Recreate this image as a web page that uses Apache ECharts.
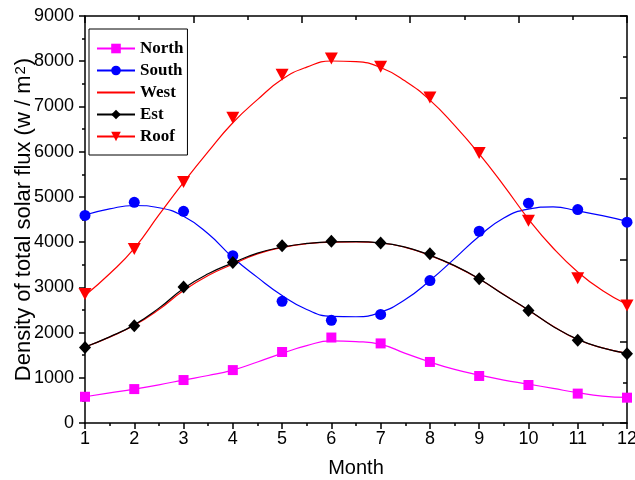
<!DOCTYPE html>
<html>
<head>
<meta charset="utf-8">
<script src="https://cdn.jsdelivr.net/npm/echarts@6/dist/echarts.min.js"></script>
<style>html,body{margin:0;padding:0;background:#fff}#c{width:635px;height:480px}</style>
</head>
<body>
<div id="c"></div>
<script>
// Measured points (months 1..12)
const months = [1,2,3,4,5,6,7,8,9,10,11,12];
const northPts = [580, 750, 950, 1170, 1570, 1890, 1760, 1350, 1040, 840, 650, 560];
const southPts = [4590, 4880, 4680, 3700, 2690, 2270, 2400, 3150, 4240, 4860, 4720, 4440];
const estPts   = [1670, 2150, 3010, 3550, 3920, 4020, 3980, 3740, 3190, 2490, 1830, 1530];
const roofPts  = [2850, 3850, 5330, 6750, 7700, 8060, 7880, 7200, 5970, 4470, 3200, 2600];

// Fitted curves at half-month steps
const fitX = [1,1.5,2,2.5,3,3.5,4,4.5,5,5.5,6,6.5,7,7.5,8,8.5,9,9.5,10,10.5,11,11.5,12];
const northFit = [580,665,750,845,950,1050,1170,1350,1540,1710,1815,1800,1740,1540,1350,1185,1060,950,860,765,670,595,565];
const southFit = [4600,4735,4810,4760,4570,4185,3660,3220,2820,2510,2360,2350,2450,2730,3150,3635,4130,4535,4730,4780,4690,4585,4460];
const westFit  = [1680,1900,2160,2510,2930,3260,3510,3740,3880,3965,4000,4005,3980,3885,3705,3475,3185,2840,2495,2140,1845,1660,1540];
const estFit   = [1680,1905,2170,2540,2975,3300,3540,3755,3890,3970,4005,4010,3985,3890,3710,3480,3190,2835,2500,2135,1850,1662,1540];
const roofFit  = [2820,3300,3860,4600,5320,6000,6640,7150,7600,7870,8005,7990,7860,7560,7140,6580,5950,5250,4510,3870,3340,2930,2620];

const seriesNames = ['North','South','West','Est','Roof'];
const xTicks = [1,12];
const yRange = [0, 9000];

const pair = (xs, ys) => xs.map((x, i) => [x, ys[i]]);

const chart = echarts.init(document.getElementById('c'), null, {renderer: 'canvas'});
const axisFont = {fontFamily: 'Liberation Sans', fontSize: 18, color: '#000'};
const lineW = 1.2;

function curve(name, ys, color, symbol, size, rotate) {
  return {
    name: name, type: 'line', data: pair(fitX, ys), smooth: 0.5,
    showSymbol: false, symbol: symbol, symbolSize: size, symbolRotate: rotate || 0,
    lineStyle: {color: color, width: lineW}, itemStyle: {color: color},
    color: color, z: 2
  };
}
function pts(name, ys, color, symbol, size, rotate) {
  return {
    name: name + ' data', type: 'scatter', data: pair(months, ys),
    symbol: symbol, symbolSize: size, symbolRotate: rotate || 0,
    itemStyle: {color: color, opacity: 1}, z: 3
  };
}

chart.setOption({
  animation: false,
  backgroundColor: '#fff',
  grid: {left: 85, right: 8, top: 16, bottom: 57, containLabel: false, outerBoundsMode: 'none'},
  legend: {
    data: [
      {name: 'North'}, {name: 'South'},
      {name: 'West', itemStyle: {opacity: 0}},
      {name: 'Est'}, {name: 'Roof'}
    ],
    orient: 'vertical', left: 89, top: 29,
    itemWidth: 38, itemHeight: 12, itemGap: 5,
    padding: [11, 4, 10, 7],
    borderColor: '#000', borderWidth: 1, backgroundColor: '#fff',
    textStyle: {fontFamily: 'Liberation Serif', fontWeight: 'bold', fontSize: 17, color: '#000', lineHeight: 17},
    selectedMode: false
  },
  xAxis: [
    {
      type: 'value', position: 'bottom', min: xTicks[0], max: xTicks[1], interval: 1,
      name: 'Month', nameLocation: 'middle', nameGap: 35, nameMoveOverlap: false,
      nameTextStyle: {fontFamily: 'Liberation Sans', fontSize: 20, color: '#000'},
      axisLine: {show: true, onZero: false, lineStyle: {color: '#000', width: 1.5}},
      axisTick: {show: true, inside: false, length: 6, lineStyle: {color: '#000', width: 1.5}},
      minorTick: {show: true, splitNumber: 2, length: 3, lineStyle: {color: '#000', width: 1.5}},
      axisLabel: Object.assign({margin: 7}, axisFont),
      splitLine: {show: false}
    },
    {
      type: 'value', position: 'top', min: 0, max: 5, interval: 1,
      axisLine: {show: true, onZero: false, lineStyle: {color: '#000', width: 1.5}},
      axisTick: {show: true, inside: true, length: 7, lineStyle: {color: '#000', width: 1.5}},
      minorTick: {show: true, splitNumber: 2, length: 4, lineStyle: {color: '#000', width: 1.5}},
      axisLabel: {show: false}, splitLine: {show: false}
    }
  ],
  yAxis: [
    {
      type: 'value', position: 'left', min: yRange[0], max: yRange[1], interval: 1000,
      name: 'Density of total solar flux (w / m{sup|2})', nameLocation: 'middle', nameGap: 50, nameMoveOverlap: false,
      nameTextStyle: {
        fontFamily: 'Liberation Sans', fontSize: 22, color: '#000',
        rich: {sup: {fontFamily: 'Liberation Sans', fontSize: 15, color: '#000', verticalAlign: 'top', padding: [0, 1, 6, 1]}}
      },
      axisLine: {show: true, onZero: false, lineStyle: {color: '#000', width: 1.5}},
      axisTick: {show: true, inside: false, length: 6, lineStyle: {color: '#000', width: 1.5}},
      minorTick: {show: true, splitNumber: 2, length: 3, lineStyle: {color: '#000', width: 1.5}},
      axisLabel: Object.assign({margin: 11, formatter: v => String(v)}, axisFont),
      splitLine: {show: false}
    },
    {
      type: 'value', position: 'right', min: 0, max: 5, interval: 1,
      axisLine: {show: true, onZero: false, lineStyle: {color: '#000', width: 1.5}},
      axisTick: {show: true, inside: true, length: 7, lineStyle: {color: '#000', width: 1.5}},
      minorTick: {show: true, splitNumber: 2, length: 4, lineStyle: {color: '#000', width: 1.5}},
      axisLabel: {show: false}, splitLine: {show: false}
    }
  ],
  series: [
    curve('North', northFit, '#ff00ff', 'rect', 10),
    curve('South', southFit, '#0000ff', 'circle', 10),
    curve('West', westFit, '#ff0000', 'circle', 10),
    curve('Est', estFit, '#000000', 'diamond', 11),
    curve('Roof', roofFit, '#ff0000', 'triangle', 11, 180),
    pts('North', northPts, '#ff00ff', 'rect', 10),
    pts('South', southPts, '#0000ff', 'circle', 11),
    pts('Est', estPts, '#000000', 'diamond', [12, 13]),
    pts('Roof', roofPts, '#ff0000', 'triangle', [13, 12], 180)
  ]
});
</script>
</body>
</html>
